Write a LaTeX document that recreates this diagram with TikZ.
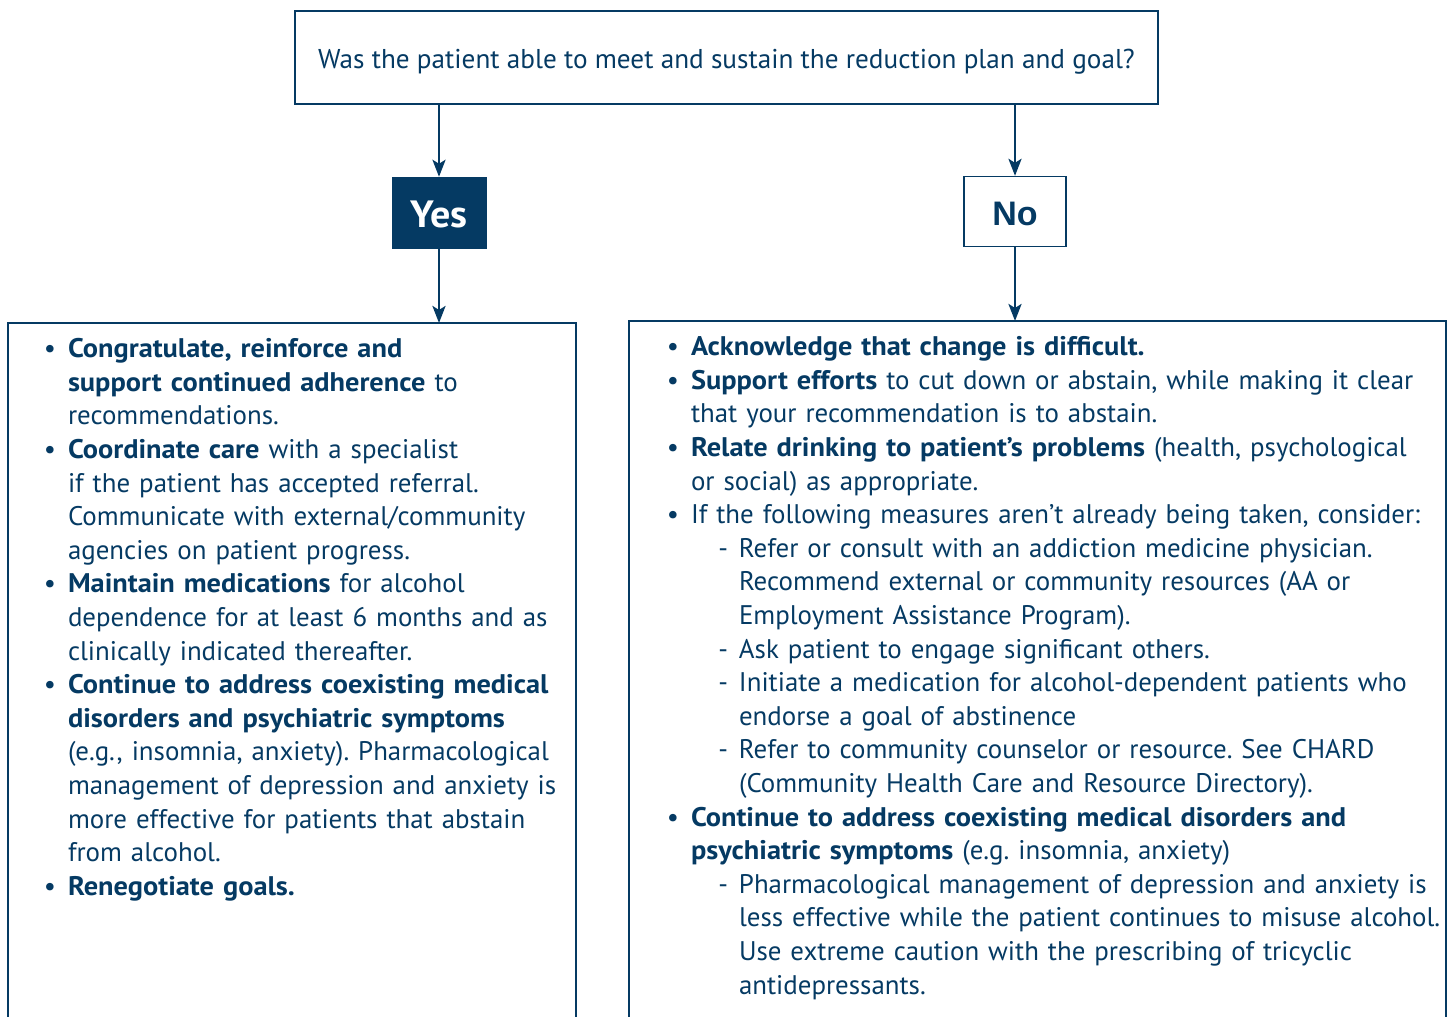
\documentclass[tikz,border=0pt]{standalone}
\usepackage{fontspec}
\setmainfont{PT Sans}[BoldFeatures={FakeStretch=1.055}]
\newfontfamily\nofont{Liberation Sans}
\usetikzlibrary{arrows.meta}
\definecolor{navy}{HTML}{053A63}
\newcommand{\itm}[1]{\par\hangindent=0pt\hangafter=0\noindent\llap{\textbullet\hspace{12pt}}#1}
\newcommand{\sitm}[1]{\par\hangindent=48pt\hangafter=0\noindent\llap{-\hspace{11pt}}#1}
\begin{document}
\begin{tikzpicture}[x=1pt,y=-1pt,
  frame/.style={draw=navy,line width=1.3pt},
  conn/.style={draw=navy,line width=2.8pt,-{Stealth[length=17pt,width=13pt,inset=4pt]}},
  label/.style={inner sep=0pt,text=navy},
  body/.style={inner sep=0pt,outer sep=0pt,anchor=north west,text=navy,
     font=\fontsize{26.9}{33.6}\selectfont\frenchspacing\raggedright},
]
\useasboundingbox (0,0) rectangle (1448,1017);
% boxes
\node[frame,minimum width=863pt,minimum height=93pt,inner sep=0pt] (q) at (726.5,57.5) {};
\node[label,font=\fontsize{27.2}{31}\selectfont,yshift=-4pt] (qt) at (q.center) {Was the patient able to meet and sustain the reduction plan and goal?};
\node[fill=navy,draw=navy,minimum width=94pt,minimum height=71pt,inner sep=0pt] (yes) at (439,212.5) {};
\node[label,text=white,font=\fontsize{38}{40}\selectfont\bfseries,yshift=-2pt] (yest) at (yes.center) {Yes};
\node[frame,fill=white,minimum width=102pt,minimum height=70pt,inner sep=0pt] (no) at (1015,211.5) {};
\node[label,font=\fontsize{34}{36}\selectfont\nofont\bfseries,yshift=-2.5pt] (not) at (no.center) {No};
\coordinate (ltop) at (439,323);
\coordinate (rtop) at (1015,321);
\draw[frame] (8,1030) -- (8,323) -- (576,323) -- (576,1030);
\draw[frame] (629,1030) -- (629,321) -- (1446,321) -- (1446,1030);
% connectors
\draw[conn] (q.south -| yes.north) -- (yes.north);
\draw[conn] (q.south -| no.north) -- (no.north);
\draw[conn] (yes.south) -- (ltop);
\draw[conn] (no.south) -- (rtop);
% left text
\node[body,text width=505pt] (ltext) at (68,324) {%
\itm{\textbf{Congratulate, reinforce and}\newline\textbf{support continued adherence} to\newline recommendations.}
\itm{\textbf{Coordinate care} with a specialist\newline if the patient has accepted referral.\newline Communicate with external/community\newline agencies on patient progress.}
\itm{\textbf{Maintain medications} for alcohol\newline dependence for at least 6 months and as\newline clinically indicated thereafter.}
\itm{\textbf{Continue to address coexisting medical}\newline\textbf{disorders and psychiatric symptoms}\newline(e.g., insomnia, anxiety). Pharmacological\newline management of depression and anxiety is\newline more effective for patients that abstain\newline from alcohol.}
\itm{\textbf{Renegotiate goals.}}\par};
% right text
\node[body,text width=752pt] (rtext) at (691,322) {%
\itm{\textbf{Acknowledge that change is difficult.}}
\itm{\textbf{Support efforts} to cut down or abstain, while making it clear\newline that your recommendation is to abstain.}
\itm{\textbf{Relate drinking to patient’s problems} (health, psychological\newline or social) as appropriate.}
\itm{If the following measures aren’t already being taken, consider:}
\sitm{Refer or consult with an addiction medicine physician.\newline Recommend external or community resources (AA or\newline Employment Assistance Program).}
\sitm{Ask patient to engage significant others.}
\sitm{Initiate a medication for alcohol-dependent patients who\newline endorse a goal of abstinence}
\sitm{Refer to community counselor or resource. See CHARD\newline(Community Health Care and Resource Directory).}
\itm{\textbf{Continue to address coexisting medical disorders and}\newline\textbf{psychiatric symptoms} (e.g. insomnia, anxiety)}
\sitm{Pharmacological management of depression and anxiety is\newline less effective while the patient continues to misuse alcohol.\newline Use extreme caution with the prescribing of tricyclic\newline antidepressants.}\par};
\end{tikzpicture}
\end{document}
